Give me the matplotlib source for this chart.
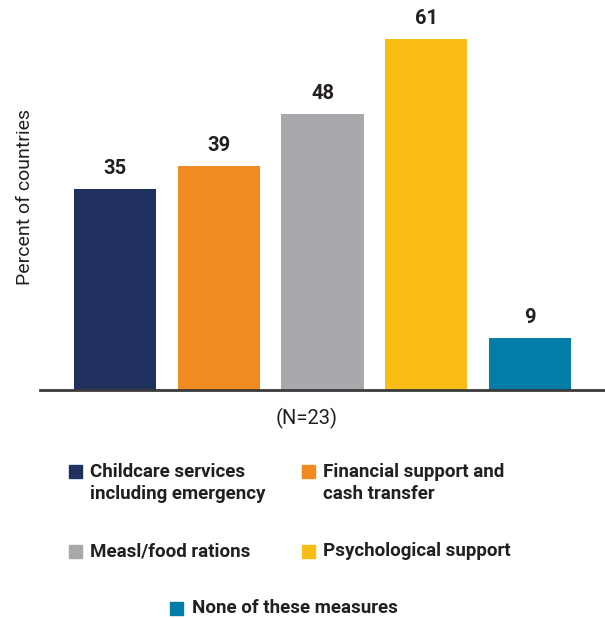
import matplotlib; matplotlib.use("Agg")
import matplotlib.pyplot as plt
from matplotlib.patches import Rectangle

categories = ["Childcare services\nincluding emergency", "Financial support and\ncash transfer",
              "Measl/food rations", "Psychological support", "None of these measures"]
values = [35, 39, 48, 61, 9]
colors = ["#203160", "#f08b22", "#a8a9ad", "#fabd16", "#037ca7"]

plt.rcParams["font.family"] = ["Roboto", "DejaVu Sans"]

W, H = 605, 618
fig = plt.figure(figsize=(W / 100, H / 100), dpi=100)
ax = fig.add_axes([40 / W, (H - 390) / H, (W - 40) / W, 390 / H])

x = range(len(values))
bars = ax.bar(x, values, width=0.79, color=colors, zorder=2)
for b, v in zip(bars, values):
    ax.text(b.get_x() + b.get_width() / 2, v + 1.9, str(v), ha="center", va="bottom",
            fontsize=14.5, fontweight="bold", color="#231f20")

ax.set_xlim(-0.72, 4.72)
ax.set_ylim(0, 67.8)
for s in ["top", "right", "left"]:
    ax.spines[s].set_visible(False)
ax.spines["bottom"].set_color("#3a3a3a")
ax.spines["bottom"].set_linewidth(2)
ax.set_xticks([]); ax.set_yticks([])

fig.text(25 / W, 1 - 197 / H, "Percent of countries", rotation=90, ha="center", va="center",
         fontsize=14, color="#231f20")
fig.text(307 / W, 1 - 418 / H, "(N=23)", ha="center", va="center", fontsize=14.5, color="#231f20")

# legend laid out by hand: two columns, last entry centred
slots = [(69, 90, 483), (302, 323, 483), (69, 90, 551), (302, 323, 551), (170, 192, 608)]
for (sx, tx, ty), lab, c in zip(slots, categories, colors):
    first_y = ty - 11.5 if "\n" in lab else ty
    fig.patches.append(Rectangle((sx / W, 1 - (first_y + 6.5) / H), 13 / W, 13 / H,
                                 transform=fig.transFigure, color=c))
    fig.text(tx / W, 1 - ty / H, lab, ha="left", va="center", fontsize=13.5,
             fontweight="bold", color="#231f20", linespacing=1.25)

fig.savefig("out.png", dpi=100, facecolor="white")
